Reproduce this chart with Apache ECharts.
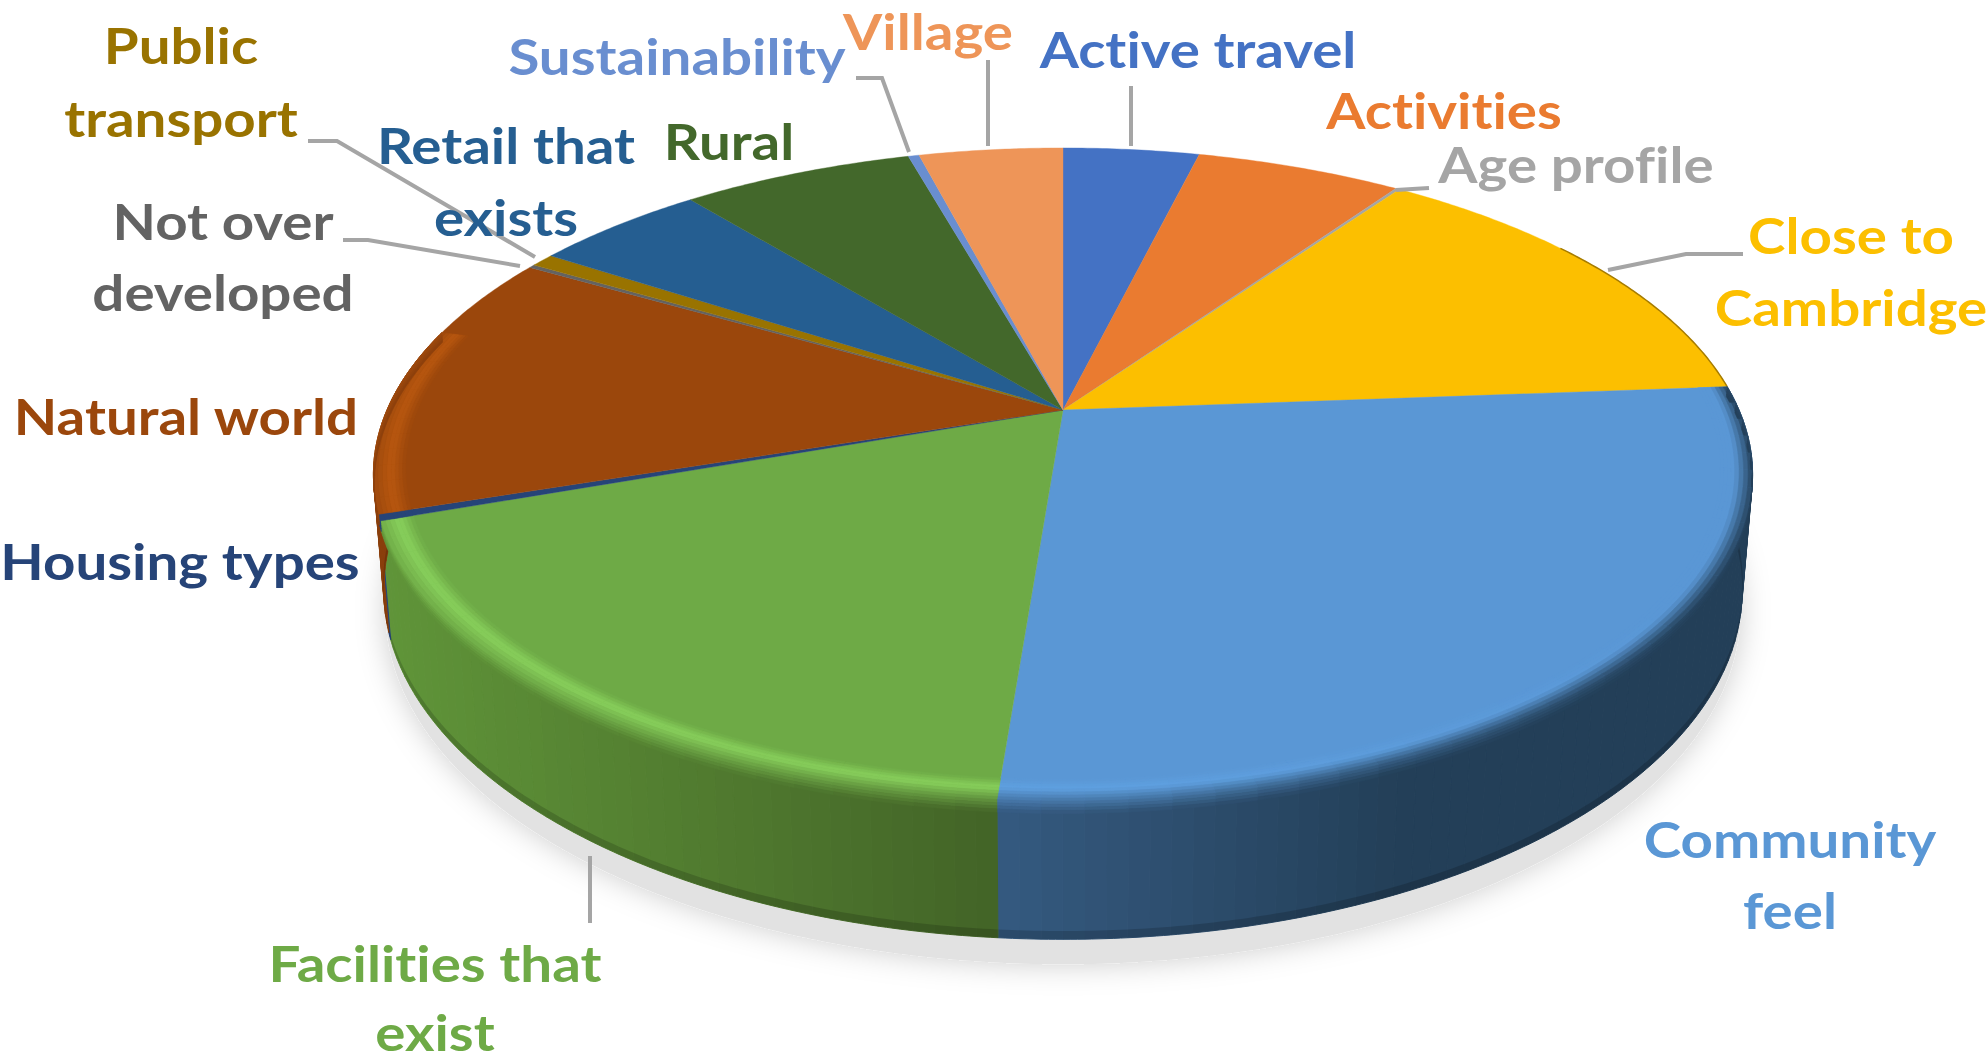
<!DOCTYPE html>
<html>
<head>
<meta charset="utf-8">
<title>Pie</title>
<script src="https://cdn.jsdelivr.net/npm/echarts@6/dist/echarts.min.js"></script>
<style>
html, body { margin: 0; padding: 0; background: #fff; }
#main { width: 1988px; height: 1062px; }
#main text { font-variant-ligatures: none !important; }
</style>
</head>
<body>
<div id="main"></div>
<script>
const categories = ['Active travel', 'Activities', 'Age profile', 'Close to Cambridge', 'Community feel', 'Facilities that exist', 'Housing types', 'Natural world', 'Not over developed', 'Public transport', 'Retail that exists', 'Rural', 'Sustainability', 'Village']
const shares = [3.86, 5.83, 0.11, 14.0, 27.44, 18.39, 0.31, 13.36, 0.17, 0.67, 4.89, 6.56, 0.31, 4.08]
const colors = ['#4472c4', '#ea7b30', '#a5a5a5', '#fcbf00', '#5a97d5', '#6eaa46', '#264478', '#9b470c', '#636363', '#997300', '#255e91', '#43682b', '#698ed0', '#ee9558']

// label lines, drawn centred at [x, y]
const labelLines = [
  [['Active travel', 1198, 48]],
  [['Activities', 1444, 109]],
  [['Age profile', 1576, 163]],
  [['Close to', 1851, 234], ['Cambridge', 1851, 306]],
  [['Community', 1790, 838], ['feel', 1790, 909]],
  [['Facilities that', 435, 962], ['exist', 435, 1031]],
  [['Housing types', 180, 560]],
  [['Natural world', 186, 415]],
  [['Not over', 223, 220], ['developed', 223, 291]],
  [['Public', 181, 44], ['transport', 181, 117]],
  [['Retail that', 506, 144], ['exists', 506, 216]],
  [['Rural', 729, 140]],
  [['Sustainability', 677, 55]],
  [['Village', 928, 30]]
]
// leader lines for the labels that have one
const leaders = {
  0: [[1131, 86], [1131, 146]],
  2: [[1396, 190], [1429, 188]],
  3: [[1608, 270], [1686, 254], [1743, 254]],
  5: [[590, 856], [590, 923]],
  8: [[343, 240], [368, 240], [520, 266]],
  9: [[308, 141], [337, 141], [535, 257]],
  12: [[856, 78], [882, 78], [909, 152]],
  13: [[988, 60], [988, 146]]
}

// wall colours [left, right] and bevel highlight, only for the front slices.
// soft: how far round from the right the highlight is still faded out
const walls = {
  4: { from: '#355a80', to: '#233f58', light: '#5fa0e0', x0: 995, x1: 1400, fadeFrom: 125, fadeTo: 175 },
  5: { from: '#609539', to: '#436427', light: '#88d05c', x0: 380, x1: 995, fadeFrom: 0, fadeTo: 0 },
  6: { from: '#264478', to: '#264478', light: '#264478', x0: 375, x1: 1750, fadeFrom: 0, fadeTo: 0 },
  7: { from: '#8a3f0c', to: '#8a3f0c', light: '#b8570f', x0: 375, x1: 1750, fadeFrom: 0, fadeTo: 0 }
}
const bevelEnd = 285

// perspective of the pie
const cx = 1063
const cy = 410
const rx = 676
const ry = 313.8
const k = 0.1975
const depth = 111

const rad = (a) => (a * Math.PI) / 180

function rimPoint(angle, r, d) {
  const u = Math.sin(rad(angle)) * r
  const v = Math.cos(rad(angle)) * r
  const w = 1 + k * v
  return [cx + (rx * (1 - 0.015 * d) * u) / w, cy - (ry * v - depth * d) / w]
}

function arc(a0, a1, r, d) {
  const pts = []
  const n = Math.max(2, Math.ceil(Math.abs(a1 - a0) / 0.5))
  for (let i = 0; i <= n; i++) {
    pts.push(rimPoint(a0 + ((a1 - a0) * i) / n, r, d))
  }
  return pts
}

function band(a0, a1, r0, d0, r1, d1) {
  return arc(a0, a1, r0, d0).concat(arc(a1, a0, r1, d1))
}

const total = shares.reduce((s, v) => s + v, 0)
let running = 0
const sliceData = shares.map((v, i) => {
  const start = (running / total) * 360
  running += v
  return { name: categories[i], value: [v, start, (running / total) * 360] }
})

function hexRgb(hex) {
  return [1, 3, 5].map((i) => parseInt(hex.slice(i, i + 2), 16))
}
function mix(a, b, t) {
  const ca = hexRgb(a)
  const cb = hexRgb(b)
  return '#' + ca.map((c, i) => Math.round(c + (cb[i] - c) * t).toString(16).padStart(2, '0')).join('')
}
function clamp01(t) {
  return Math.min(1, Math.max(0, t))
}
function wallAt(w, x) {
  return mix(w.from, w.to, clamp01((x - w.x0) / (w.x1 - w.x0)))
}

const chart = echarts.init(document.getElementById('main'), null, { renderer: 'svg' })
chart.setOption({
  backgroundColor: '#fff',
  animation: false,
  series: [
    {
      // soft shadow under the pie, then the side walls
      type: 'custom',
      coordinateSystem: 'none',
      z: 1,
      data: sliceData,
      renderItem(params, api) {
        const i = params.dataIndex
        const w = walls[i]
        const children = []
        if (i === 0) {
          children.push({
            type: 'polygon',
            shape: { points: arc(0, 360, 1, 1.18) },
            style: { fill: '#e2e2e2', shadowBlur: 30, shadowColor: 'rgba(0,0,0,0.2)' }
          })
        }
        if (w) {
          const a0 = api.value(1)
          const a1 = Math.min(api.value(2), bevelEnd)
          const n = Math.max(1, Math.ceil((a1 - a0) / 1.5))
          // short quads so the silhouette at the far left and right stays straight
          for (let q = 0; q < n; q++) {
            const t0 = a0 + ((a1 - a0) * q) / n
            const t1 = a0 + ((a1 - a0) * (q + 1)) / n
            const c = wallAt(w, rimPoint((t0 + t1) / 2, 1, 0.5)[0])
            children.push({
              type: 'polygon',
              shape: { points: band(t0, t1, 1, 0, 1, 1) },
              style: { fill: c, stroke: c, lineWidth: 1 }
            })
          }
          // darker foot of the wall
          children.push({
            type: 'polygon',
            shape: { points: band(a0, a1, 1, 0.94, 1, 1) },
            style: { fill: 'rgba(0,0,0,0.16)' }
          })
        }
        return { type: 'group', children: children }
      }
    },
    {
      // top face
      type: 'custom',
      coordinateSystem: 'none',
      z: 2,
      data: sliceData,
      renderItem(params, api) {
        const i = params.dataIndex
        return {
          type: 'polygon',
          shape: { points: [[cx, cy]].concat(arc(api.value(1), api.value(2), 1, 0)) },
          style: { fill: colors[i], stroke: colors[i], lineWidth: 0.4 }
        }
      }
    },
    {
      // bevel round the rim: face colour -> highlight -> wall colour
      type: 'custom',
      coordinateSystem: 'none',
      z: 3,
      data: sliceData,
      renderItem(params, api) {
        const i = params.dataIndex
        const w = walls[i]
        if (i === 3) {
          // the yellow slice only has a thin dark edge near its corner
          return {
            type: 'polyline',
            shape: { points: arc(55, api.value(2), 1, 0) },
            style: { fill: 'none', stroke: '#a67c00', lineWidth: 1.5 }
          }
        }
        if (!w) return { type: 'group', children: [] }
        const a0 = api.value(1)
        const a1 = Math.min(api.value(2), bevelEnd)
        const n = Math.max(1, Math.ceil((a1 - a0) / 3))
        const children = []
        for (let q = 0; q < n; q++) {
          const b0 = a0 + ((a1 - a0) * q) / n
          const b1 = a0 + ((a1 - a0) * (q + 1)) / n
          const mid = (b0 + b1) / 2
          const fade = w.fadeTo ? clamp01((mid - w.fadeFrom) / (w.fadeTo - w.fadeFrom)) : 1
          const wallMid = wallAt(w, rimPoint(mid, 1, 0.5)[0])
          const light = mix(colors[i], w.light, fade)
          const stops = [
            [0.955, 0, 0],
            [0.975, 0, 1],
            [1, 0, 0.08 + 0.37 * fade],
            [1, 0.09, 0]
          ]
          for (let s = 0; s < stops.length - 1; s++) {
            const p = stops[s]
            const e = stops[s + 1]
            for (let j = 0; j < 4; j++) {
              const t0 = j / 4
              const t1 = (j + 1) / 4
              const r0 = p[0] + (e[0] - p[0]) * t0
              const r1 = p[0] + (e[0] - p[0]) * t1
              const d0 = p[1] + (e[1] - p[1]) * t0
              const d1 = p[1] + (e[1] - p[1]) * t1
              const al = p[2] + (e[2] - p[2]) * (t0 + t1) / 2
              // inside the rim the highlight sits on the face, outside on the wall
              const c = s === 0 ? mix(colors[i], light, al) : mix(wallMid, light, al)
              children.push({
                type: 'polygon',
                shape: { points: band(b0, b1, r0, d0, r1, d1) },
                style: { fill: c, stroke: c, lineWidth: 0.6 }
              })
            }
          }
        }
        return { type: 'group', children: children }
      }
    },
    {
      // labels with their leader lines
      type: 'custom',
      coordinateSystem: 'none',
      z: 5,
      data: sliceData,
      renderItem(params) {
        const i = params.dataIndex
        const children = labelLines[i].map((line) => ({
          type: 'text',
          x: line[1],
          y: line[2],
          scaleX: 1.13,
          style: {
            text: line[0],
            align: 'center',
            verticalAlign: 'middle',
            font: 'bold 50px Lato',
            fill: colors[i]
          }
        }))
        if (leaders[i]) {
          children.unshift({
            type: 'polyline',
            shape: { points: leaders[i] },
            style: { fill: 'none', stroke: '#a5a5a5', lineWidth: 4 }
          })
        }
        return { type: 'group', children: children }
      }
    }
  ]
})
</script>
</body>
</html>
